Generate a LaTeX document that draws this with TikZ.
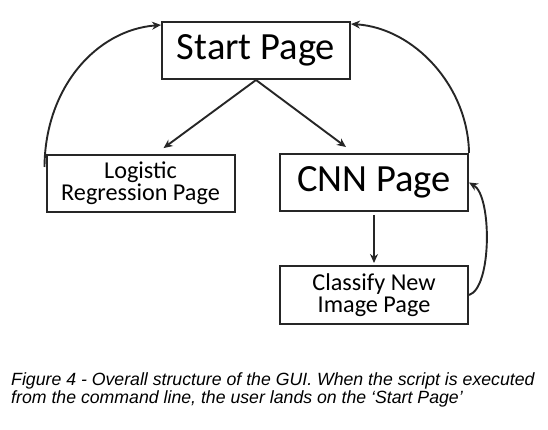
\documentclass[tikz,border=0pt]{standalone}
\usepackage{fontspec}
\setmainfont{Carlito}
\newfontfamily\capfont{Liberation Sans}
\usetikzlibrary{arrows.meta}
\tikzset{
  page/.style={draw=black!85, line width=2pt, minimum width=188pt, minimum height=57pt, inner sep=0pt, align=center},
  big/.style={font=\fontsize{38.5}{38}\selectfont},
  small/.style={font=\fontsize{24.2}{22}\selectfont},
  link/.style={draw=black!85, line width=1.9pt, -{Stealth[length=9pt,width=8pt]}}
}
\begin{document}
\begin{tikzpicture}[x=1pt, y=-1pt]
\useasboundingbox (0,0) rectangle (548,430);
\node[page, big] (start) at (256,50.5) {Start Page};
\node[page, small] (logi) at (140.5,183.5) {Logistic\\Regression Page};
\node[page, big] (cnn) at (374,182.5) {CNN Page};
\node[page, small, minimum height=58pt] (classify) at (374,295) {Classify New\\Image Page};
\draw[link, shorten >=10pt] (start.south) -- ([xshift=15pt]logi.north);
\draw[link, shorten >=10pt] (start.south) -- ([xshift=-20pt]cnn.north);
\draw[link, shorten <=3pt, shorten >=2pt] (cnn.south) -- (classify.north);
\draw[link] ([yshift=-13pt, xshift=-1pt]logi.north west) .. controls (45,88) and (96,30) .. ([yshift=-4pt]start.north west);
\draw[link] (cnn.north east) .. controls (468,86) and (414,28) .. ([yshift=-3pt]start.north east);
\draw[link] (classify.east) .. controls (492,288) and (492,196) .. (cnn.east);
% caption
\node[anchor=base west, inner sep=0pt, align=left, font=\capfont\itshape\fontsize{17.7}{17.2}\selectfont] (cap) at (11,403) {Figure 4 - Overall structure of the GUI. When the script is executed\\from the command line, the user lands on the ‘Start Page’};
\end{tikzpicture}
\end{document}
